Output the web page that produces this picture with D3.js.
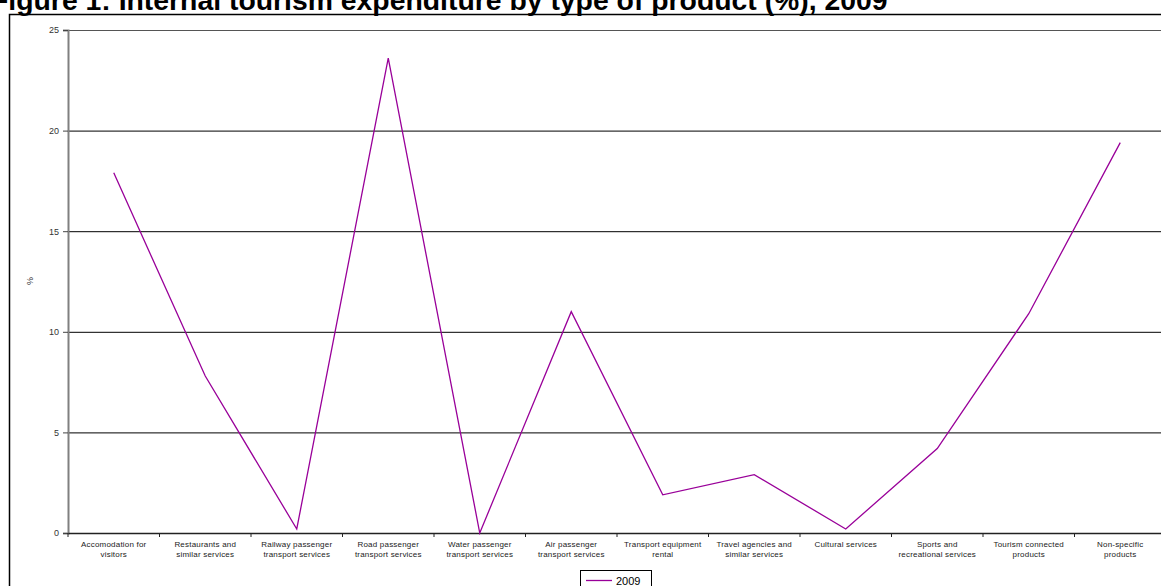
<!DOCTYPE html>
<html>
<head>
<meta charset="utf-8">
<script src="https://cdn.jsdelivr.net/npm/d3@7"></script>
<style>
  html, body { margin: 0; padding: 0; background: #fff; overflow: hidden; }
  svg { display: block; font-family: "Liberation Sans", Arial, sans-serif; }
</style>
</head>
<body>
<svg id="chart" width="1161" height="586"></svg>
<script>
// Internal tourism expenditure by type of product, 2009 (%)
const categories = [
  ["Accomodation for", "visitors"],
  ["Restaurants and", "similar services"],
  ["Railway passenger", "transport services"],
  ["Road passenger", "transport services"],
  ["Water passenger", "transport services"],
  ["Air passenger", "transport services"],
  ["Transport equipment", "rental"],
  ["Travel agencies and", "similar services"],
  ["Cultural services"],
  ["Sports and", "recreational services"],
  ["Tourism connected", "products"],
  ["Non-specific", "products"]
];
const values2009 = [17.9, 7.8, 0.2, 23.6, 0.0, 11.0, 1.9, 2.9, 0.2, 4.2, 10.9, 19.4];
const yTicks = [0, 5, 10, 15, 20, 25];
const seriesName = "2009";
const titleText = "Figure 1: Internal tourism expenditure by type of product (%), 2009";

const svg = d3.select("#chart");
const plot = { left: 68, right: 1166, top: 30, bottom: 533 };

// Title (sits above the chart frame, running off the top edge)
const title = svg.append("text")
  .attr("x", -9).attr("y", 10)
  .attr("font-size", 24).attr("font-weight", "bold").attr("fill", "#000")
  .text(titleText);
const titleWidth = 897;
const measured = title.node().getComputedTextLength();
title.attr("font-size", 24 * titleWidth / measured);

// Outer chart frame
svg.append("rect")
  .attr("x", 9.5).attr("y", 14.5).attr("width", 1200).attr("height", 620)
  .attr("fill", "none").attr("stroke", "#000").attr("stroke-width", 1.5);

const idx = categories.map((d, i) => i);
const x = d3.scaleBand().domain(idx).range([plot.left, plot.right]);
const y = d3.scaleLinear().domain([0, 25]).range([plot.bottom, plot.top]);

// Horizontal gridlines
svg.append("g").selectAll("line")
  .data(yTicks.filter(t => t > 0))
  .join("line")
  .attr("x1", plot.left).attr("x2", plot.right)
  .attr("y1", d => y(d) + 0.5).attr("y2", d => y(d) + 0.5)
  .attr("stroke", d => d === 25 ? "#555" : "#000").attr("stroke-width", 1);

// Y axis
const yAxis = svg.append("g")
  .attr("transform", `translate(${plot.left},0)`)
  .call(d3.axisLeft(y).tickValues(yTicks).tickSize(5).tickPadding(4).tickFormat(d3.format("d")));
yAxis.select(".domain").attr("stroke", "#808080").attr("stroke-width", 2);
yAxis.selectAll(".tick line").attr("stroke", "#444");
yAxis.selectAll(".tick text").attr("font-size", 9).attr("fill", "#333")
  .attr("font-family", "'Liberation Sans', Arial, sans-serif");

// X axis
const xAxis = svg.append("g")
  .attr("transform", `translate(0,${plot.bottom})`)
  .call(d3.axisBottom(x).tickSize(0).tickFormat(""));
xAxis.select(".domain").attr("stroke", "#222").attr("stroke-width", 1.5);
xAxis.selectAll(".tick").remove();

// Category boundary ticks
svg.append("g").selectAll("line")
  .data(idx)
  .join("line")
  .attr("x1", d => x(d)).attr("x2", d => x(d))
  .attr("y1", plot.bottom).attr("y2", plot.bottom + 4)
  .attr("stroke", "#222").attr("stroke-width", 1);

// Category labels
const lbl = svg.append("g").selectAll("text")
  .data(idx)
  .join("text")
  .attr("x", d => x(d) + x.bandwidth() / 2)
  .attr("y", plot.bottom + 14)
  .attr("text-anchor", "middle")
  .attr("font-size", 8).attr("letter-spacing", 0.2).attr("fill", "#222");
lbl.selectAll("tspan")
  .data(d => categories[d].map(s => ({ s, i: d })))
  .join("tspan")
  .attr("x", d => x(d.i) + x.bandwidth() / 2)
  .attr("dy", (d, j) => j === 0 ? 0 : 9.5)
  .text(d => d.s);

// Y axis title
svg.append("text")
  .attr("transform", "translate(33,281) rotate(-90)")
  .attr("text-anchor", "middle").attr("font-size", 9).attr("fill", "#333")
  .text("%");

// Series line
const line = d3.line()
  .x((d, i) => x(i) + x.bandwidth() / 2)
  .y(d => y(d));
svg.append("path")
  .datum(values2009)
  .attr("d", line)
  .attr("fill", "none").attr("stroke", "#990099").attr("stroke-width", 1.3);

// Legend
const leg = svg.append("g").attr("transform", "translate(580,570)");
leg.append("rect").attr("x", 0.5).attr("y", 0.5).attr("width", 71).attr("height", 22)
  .attr("fill", "#fff").attr("stroke", "#000").attr("stroke-width", 1);
leg.append("line").attr("x1", 6).attr("x2", 32).attr("y1", 10.5).attr("y2", 10.5)
  .attr("stroke", "#990099").attr("stroke-width", 1.3);
leg.append("text").attr("x", 36).attr("y", 14.5).attr("font-size", 11).attr("fill", "#000")
  .text(seriesName);
</script>
</body>
</html>
